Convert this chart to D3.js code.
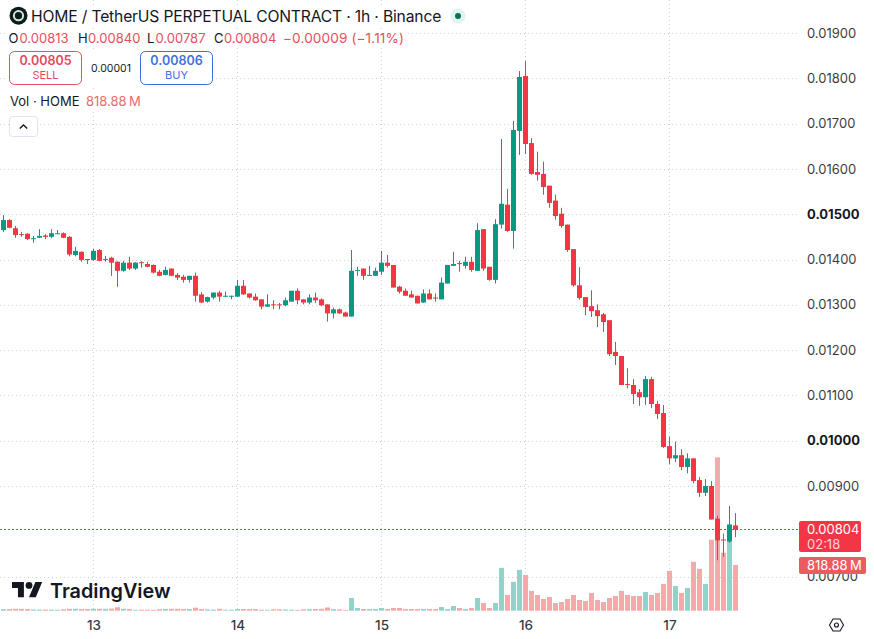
<!DOCTYPE html>
<html>
<head>
<meta charset="utf-8">
<script src="https://cdn.jsdelivr.net/npm/d3@7"></script>
<style>
  html, body { margin: 0; padding: 0; background: #fff; }
  svg { display: block; font-family: Inter, "Noto Sans", sans-serif; }
</style>
</head>
<body>
<svg id="chart" width="874" height="639"></svg>
<script>
// Hourly candles for HOME/USDT perpetual, prices in units of 0.00001
const opens = [1465,1487,1469,1456,1457,1445,1448,1453,1450,1457,1458,1450,1410,1417,1401,1399,1421,1400,1404,1395,1375,1393,1380,1394,1390,1388,1373,1366,1380,1366,1362,1355,1364,1323,1307,1316,1327,1318,1319,1318,1342,1325,1318,1312,1296,1301,1301,1299,1307,1331,1312,1305,1316,1312,1301,1281,1290,1283,1274,1375,1380,1364,1364,1373,1393,1388,1340,1331,1323,1320,1305,1325,1316,1312,1347,1386,1392,1386,1395,1375,1467,1384,1355,1477,1521,1463,1684,1805,1657,1593,1589,1563,1530,1501,1477,1423,1343,1317,1297,1288,1279,1266,1196,1187,1125,1123,1107,1096,1136,1081,1061,988,961,968,942,961,913,885,900,828,782,777,813];
const highs = [1498,1489,1474,1461,1458,1452,1467,1456,1467,1465,1460,1452,1428,1418,1401,1423,1423,1408,1406,1396,1397,1406,1394,1396,1395,1389,1377,1384,1380,1370,1366,1364,1371,1328,1318,1327,1331,1329,1320,1355,1355,1325,1325,1312,1323,1310,1304,1316,1331,1336,1312,1323,1327,1314,1301,1294,1292,1285,1421,1384,1380,1386,1382,1419,1410,1388,1342,1336,1331,1320,1334,1334,1325,1360,1388,1417,1397,1406,1406,1480,1467,1384,1489,1666,1556,1706,1816,1838,1668,1638,1616,1563,1543,1514,1477,1423,1383,1317,1332,1301,1282,1266,1218,1187,1160,1136,1114,1143,1141,1088,1079,1009,998,981,972,961,920,915,911,834,795,856,840];
const lows = [1461,1469,1448,1450,1443,1437,1447,1445,1447,1456,1447,1407,1407,1395,1390,1397,1396,1395,1364,1340,1373,1377,1377,1382,1383,1369,1363,1365,1363,1355,1349,1349,1307,1304,1305,1312,1307,1317,1312,1317,1322,1314,1309,1290,1295,1290,1290,1297,1307,1301,1301,1301,1304,1297,1263,1270,1280,1274,1274,1364,1355,1364,1364,1366,1382,1338,1325,1320,1316,1303,1304,1312,1307,1312,1347,1386,1373,1380,1373,1375,1375,1353,1347,1468,1461,1424,1631,1633,1587,1574,1543,1514,1488,1470,1417,1340,1311,1277,1273,1251,1240,1187,1167,1123,1116,1081,1077,1079,1072,1048,984,948,953,935,928,906,876,878,826,736,744,775,787];
const closes = [1487,1470,1454,1455,1445,1447,1452,1450,1458,1458,1448,1411,1419,1399,1400,1419,1397,1401,1393,1375,1393,1380,1393,1393,1384,1371,1364,1377,1364,1360,1355,1364,1320,1305,1317,1327,1318,1320,1320,1342,1323,1316,1310,1296,1301,1299,1299,1310,1331,1310,1305,1316,1310,1299,1281,1290,1281,1274,1375,1377,1364,1366,1375,1393,1386,1338,1329,1320,1316,1303,1325,1312,1315,1349,1388,1390,1390,1395,1377,1465,1380,1355,1478,1523,1463,1686,1803,1655,1589,1587,1560,1525,1496,1474,1421,1343,1315,1295,1286,1275,1262,1191,1187,1123,1123,1103,1096,1136,1081,1059,986,961,968,942,961,911,885,900,826,780,780,815,804];
// Traded volume per candle, in millions of HOME
const volumes = [28,30,34,34,30,22,20,20,20,18,26,34,34,30,30,34,34,34,38,62,34,30,16,18,18,16,28,30,34,34,30,30,54,30,24,20,34,18,18,30,30,30,30,18,16,26,26,22,18,14,26,26,30,34,58,30,24,14,228,48,30,30,30,48,30,48,48,30,30,30,30,30,30,66,30,84,48,30,48,228,138,48,138,768,282,516,732,642,354,282,210,246,138,156,210,282,192,174,318,192,156,228,264,354,282,264,264,336,282,318,480,714,444,318,408,876,750,480,1272,2748,1038,1236,818.88];

const priceTicks = [19, 18, 17, 16, 15, 14, 13, 12, 11, 10, 9, 7].map(d => d * 100);
const strongTicks = [1500, 1000];
const lastPrice = 804;
const lastVolume = 818.88;
const firstHour = Date.UTC(2025, 5, 12, 9);
const times = opens.map((_, i) => new Date(firstHour + i * 3600e3));

const UP = "#089981", DOWN = "#f23645";
const UP_VOL = "#92d3c9", DOWN_VOL = "#f5a9ab";
const GRID = "#cdd1d8", INK = "#131722";

const plotRight = 798, plotBottom = 610.7;
const x = d3.scaleUtc().domain([times[0], times[times.length - 1]]).range([3.5, 735.5]);
const y = d3.scaleLinear().domain([700, 1900]).range([576.6, 33]);
const yVol = d3.scaleLinear().domain([0, lastVolume]).range([plotBottom, 565]);

const svg = d3.select("#chart");
const dayTicks = x.ticks(d3.utcDay.every(1));

// Dotted grid
const dots = "1 3";
svg.append("g").attr("shape-rendering", "crispEdges").selectAll("line").data(priceTicks).join("line")
  .attr("x1", 0).attr("x2", plotRight)
  .attr("y1", d => Math.round(y(d)) + 0.5).attr("y2", d => Math.round(y(d)) + 0.5)
  .attr("stroke", GRID).attr("stroke-dasharray", dots);
svg.append("g").attr("shape-rendering", "crispEdges").selectAll("line").data(dayTicks).join("line")
  .attr("x1", d => x(d)).attr("x2", d => x(d))
  .attr("y1", 0).attr("y2", plotBottom)
  .attr("stroke", GRID).attr("stroke-dasharray", dots);

// Volume bars sit behind the candles
svg.append("g").selectAll("rect").data(volumes).join("rect")
  .attr("x", (d, i) => x(times[i]) - 2.5)
  .attr("width", 5)
  .attr("y", d => yVol(d))
  .attr("height", d => plotBottom - yVol(d))
  .attr("fill", (d, i) => closes[i] >= opens[i] ? UP_VOL : DOWN_VOL);

// Last price line
svg.append("line").attr("shape-rendering", "crispEdges")
  .attr("x1", 0).attr("x2", plotRight)
  .attr("y1", Math.round(y(lastPrice)) + 0.5).attr("y2", Math.round(y(lastPrice)) + 0.5)
  .attr("stroke", DOWN).attr("stroke-dasharray", "2 2");

// Candles
const candles = svg.append("g").selectAll("g").data(times).join("g")
  .attr("fill", (d, i) => closes[i] >= opens[i] ? UP : DOWN)
  .attr("stroke", (d, i) => closes[i] >= opens[i] ? UP : DOWN);
candles.append("line")
  .attr("x1", d => x(d)).attr("x2", d => x(d))
  .attr("y1", (d, i) => y(highs[i])).attr("y2", (d, i) => y(lows[i]));
candles.append("rect")
  .attr("stroke", "none")
  .attr("x", d => x(d) - 2.5).attr("width", 5)
  .attr("y", (d, i) => y(Math.max(opens[i], closes[i])))
  .attr("height", (d, i) => Math.max(1, Math.abs(y(opens[i]) - y(closes[i]))));

// Price axis
const fmtPrice = d => (d / 100000).toFixed(5);
const yAxis = d3.axisRight(y).tickValues(priceTicks).tickFormat(fmtPrice).tickSize(0).tickPadding(0);
const yG = svg.append("g").attr("transform", "translate(807,0)").call(yAxis);
yG.select(".domain").remove();
yG.selectAll("text")
  .attr("font-family", "Inter, sans-serif").attr("font-size", 13)
  .attr("font-weight", d => strongTicks.includes(d) ? 700 : 400)
  .attr("fill", INK).attr("opacity", d => strongTicks.includes(d) ? 1 : 0.85);

// Time axis
const xAxis = d3.axisBottom(x).tickValues(dayTicks).tickFormat(d3.utcFormat("%-d")).tickSize(0).tickPadding(0);
const xG = svg.append("g").attr("transform", "translate(0,620)").call(xAxis);
xG.select(".domain").remove();
xG.selectAll("text")
  .attr("font-family", "Inter, sans-serif").attr("font-size", 13.5).attr("font-weight", 500)
  .attr("fill", INK).attr("opacity", 0.85);

// Price and volume tags on the axis
function label(parent, str, px, py, opts = {}) {
  return parent.append("text").attr("x", px).attr("y", py).text(str)
    .attr("font-size", opts.size || 13).attr("font-weight", opts.weight || 400)
    .attr("fill", opts.fill || INK).attr("text-anchor", opts.anchor || "start");
}
const tags = svg.append("g");
tags.append("rect").attr("x", 799).attr("y", 521).attr("width", 62).attr("height", 31).attr("rx", 2).attr("fill", DOWN);
label(tags, fmtPrice(lastPrice), 807, 534, { fill: "#fff" });
label(tags, "02:18", 807, 549, { fill: "#ffd5d8" });
tags.append("rect").attr("x", 799).attr("y", 557).attr("width", 67).attr("height", 17).attr("rx", 2).attr("fill", "#ec5b60");
label(tags, "818.88\u2009M", 807, 570, { fill: "#fff" });

// Scale settings hexagon
const hex = svg.append("g").attr("transform", "translate(836.5,625)").attr("fill", "none").attr("stroke", INK).attr("stroke-width", 1.1);
hex.append("path").attr("d", d3.line()([[-7, 0], [-3.5, -6], [3.5, -6], [7, 0], [3.5, 6], [-3.5, 6]]) + "Z");
hex.append("circle").attr("r", 2);

// Legend: white backing keeps the grid out from under the text
const legend = svg.append("g");
[[8, 6, 437, 20], [8, 30, 398, 18], [8, 50, 206, 36], [8, 92, 138, 18]].forEach(([a, b, w, h]) =>
  legend.append("rect").attr("x", a).attr("y", b).attr("width", w).attr("height", h).attr("fill", "#fff"));

legend.append("circle").attr("cx", 18.5).attr("cy", 15.7).attr("r", 9).attr("fill", "#0c1c1b");
legend.append("circle").attr("cx", 18.5).attr("cy", 15.7).attr("r", 4.6).attr("fill", "none").attr("stroke", "#d5e2e0").attr("stroke-width", 2);
label(legend, "HOME / TetherUS PERPETUAL CONTRACT \u00b7 1h \u00b7 Binance", 31, 21.5, { size: 15.65 }).attr("letter-spacing", -0.16);
legend.append("circle").attr("cx", 458).attr("cy", 16).attr("r", 7.5).attr("fill", "#dff3ef");
legend.append("circle").attr("cx", 458).attr("cy", 16).attr("r", 3).attr("fill", "#08705f");

const RED_TXT = "#ea4d5e";
const ohlc = [["O", 8.5, "0.00813", 19.5], ["H", 78, "0.00840", 88], ["L", 147, "0.00787", 155.5], ["C", 214, "0.00804", 224]];
ohlc.forEach(([k, kx, v, vx]) => {
  label(legend, k, kx, 43, { size: 13 });
  label(legend, v, vx, 43, { size: 13, fill: RED_TXT });
});
label(legend, "\u22120.00009 (\u22121.11%)", 283, 43, { size: 13.6, fill: RED_TXT }).attr("letter-spacing", 0.12);

const sell = legend.append("g");
sell.append("rect").attr("x", 9.5).attr("y", 51.5).attr("width", 72).attr("height", 33).attr("rx", 5).attr("fill", "#fff").attr("stroke", "#e0525f");
label(sell, "0.00805", 45.5, 65, { size: 12.5, weight: 600, fill: "#e8475a", anchor: "middle" });
label(sell, "SELL", 45.5, 79, { size: 11, fill: "#e8475a", anchor: "middle" });
label(legend, "0.00001", 111, 72, { size: 10.5, anchor: "middle" });
const buy = legend.append("g");
buy.append("rect").attr("x", 140.5).attr("y", 51.5).attr("width", 72).attr("height", 33).attr("rx", 5).attr("fill", "#fff").attr("stroke", "#3c6cd8");
label(buy, "0.00806", 176.5, 65, { size: 12.5, weight: 600, fill: "#3f72e0", anchor: "middle" });
label(buy, "BUY", 176.5, 79, { size: 11, fill: "#3f72e0", anchor: "middle" });

label(legend, "Vol \u00b7 HOME", 10, 106, { size: 13 });
label(legend, "818.88\u2009M", 86, 106, { size: 13, fill: "#ec6a6c" });

// Collapse button
const btn = legend.append("g");
btn.append("rect").attr("x", 9.5).attr("y", 116.5).attr("width", 28).attr("height", 20).attr("rx", 3).attr("fill", "#fff").attr("stroke", "#e0e3eb");
btn.append("path").attr("d", d3.line()([[19.8, 128.5], [23.5, 125], [27.2, 128.5]])).attr("fill", "none").attr("stroke", INK).attr("stroke-width", 1.4);

// Wordmark
const logo = svg.append("g").attr("transform", "translate(12,582) scale(0.85)").attr("fill", "#131722");
logo.append("path").attr("d", "M14 18H7V7H0V0h14v18zM28 18h-8l7.5-18h8L28 18z");
logo.append("circle").attr("cx", 20).attr("cy", 4).attr("r", 4);
label(svg, "TradingView", 50, 597.5, { size: 19.8, weight: 600, fill: "#131722" });
</script>
</body>
</html>
